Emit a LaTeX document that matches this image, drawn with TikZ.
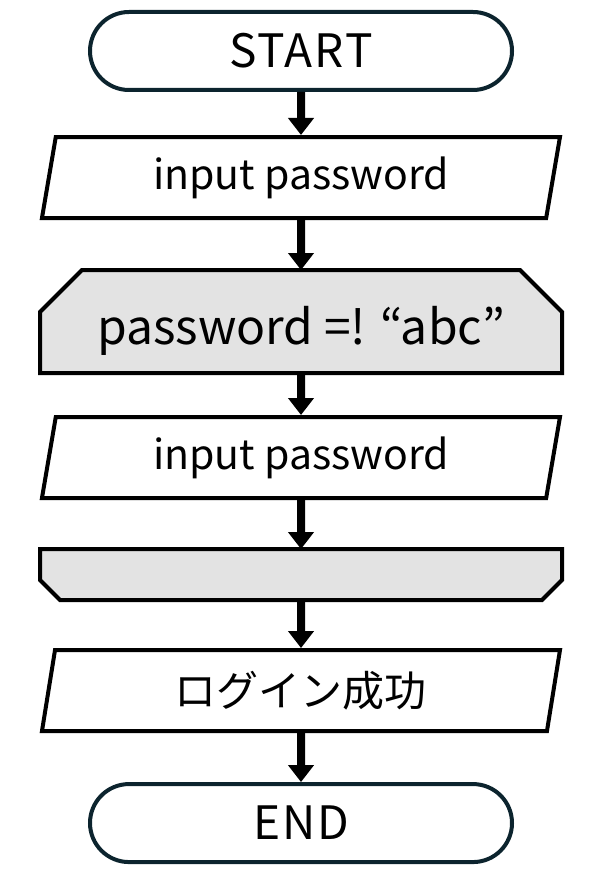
\documentclass[tikz,border=0pt]{standalone}
\usepackage{fontspec}
\setmainfont{Noto Sans CJK JP}
\usetikzlibrary{positioning,arrows.meta,shapes.geometric,backgrounds}
\definecolor{TermLine}{RGB}{12,36,46}
\definecolor{LoopFill}{RGB}{227,227,227}

\begin{document}
\begin{tikzpicture}[
    x=0.5pt, y=0.5pt,
    terminal/.style={rectangle, rounded corners=19.5pt, draw=TermLine, line width=2pt,
        minimum width=211pt, minimum height=39pt,
        font=\fontsize{23}{27}\selectfont\addfontfeature{LetterSpace=4}},
    io/.style={trapezium, trapezium left angle=76, trapezium right angle=104,
        trapezium stretches body, draw, line width=2pt,
        minimum width=259pt, minimum height=40.5pt, font=\fontsize{20.5}{24}\selectfont},
    loopbox/.style={rectangle, outer sep=1pt, inner sep=0pt,
        minimum width=259pt, font=\fontsize{24}{28}\selectfont},
    loopline/.style={draw, fill=LoopFill, line width=2pt},
    arr/.style={-{Triangle[width=12.5pt, length=8.5pt]}, line width=4pt},
]
\useasboundingbox (0,0) rectangle (588,-876);

\node[terminal] (start) at (301,-51) {START};
\node[io, below=21.5pt of start] (in1) {input password};
\node[loopbox, minimum height=49.5pt, text height=28pt, below=25pt of in1] (lp1) {password =! “abc”};
\node[io, below=21pt of lp1] (in2) {input password};
\node[loopbox, minimum height=23.5pt, below=24.5pt of in2] (lp2) {};
\node[io, below=24pt of lp2] (ok) {\fontsize{21}{25}\selectfont ログイン成功};
\node[terminal, below=24.5pt of ok] (end) {END};

% loop limit outlines
\begin{scope}[on background layer]
\draw[loopline] ([xshift=21pt]lp1.north west) -- ([xshift=-21pt]lp1.north east)
    -- ([yshift=-21pt]lp1.north east) -- (lp1.south east) -- (lp1.south west)
    -- ([yshift=-21pt]lp1.north west) -- cycle;
\draw[loopline] (lp2.north west) -- (lp2.north east) -- ([yshift=10pt]lp2.south east)
    -- ([xshift=-10pt]lp2.south east) -- ([xshift=10pt]lp2.south west)
    -- ([yshift=10pt]lp2.south west) -- cycle;
\end{scope}

\draw[arr] (start) -- (in1);
\draw[arr] (in1) -- (lp1);
\draw[arr] (lp1) -- (in2);
\draw[arr] (in2) -- (lp2);
\draw[arr] (lp2) -- (ok);
\draw[arr] (ok) -- (end);
\end{tikzpicture}
\end{document}
